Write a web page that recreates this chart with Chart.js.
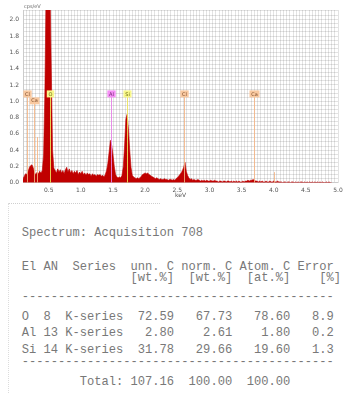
<!DOCTYPE html>
<html>
<head>
<meta charset="utf-8">
<script src="https://cdn.jsdelivr.net/npm/chart.js@4.4.1/dist/chart.umd.min.js"></script>
<style>
	body { margin: 0; background: #fff; }
	#wrap { position: relative; width: 354px; height: 406px; overflow: hidden; }
	#spec { position: absolute; left: 0; top: 0; }
	.rule { position: absolute; left: 8px; top: 203px; width: 152px; border-top: 1px dotted #cfcfcf; }
	.box { position: absolute; left: 8px; top: 203px; height: 190px; border-left: 1px dotted #dcdcdc; }
	.ln { position: absolute; left: 21.7px; white-space: pre; font-family: "Liberation Mono", monospace; font-size: 12.1px; line-height: 14px; color: #787878; }
</style>
</head>
<body>
<div id="wrap">
	<canvas id="spec" width="354" height="200"></canvas>
	<div class="rule"></div>
	<div class="box"></div>
	<div id="table"></div>
</div>
<script>
// spectrum channels, 0.02 keV each, starting at 0.10 keV
var counts = [
	0.05, 0.08, 0.11, 0.10, 0.14, 0.19, 0.21, 0.22, 0.18, 0.12,
	0.10, 0.13, 0.11, 0.14, 0.12, 0.15, 0.34, 1.10, 2.40, 2.40,
	2.40, 2.40, 1.40, 0.40, 0.18, 0.15, 0.12, 0.17, 0.13, 0.16,
	0.12, 0.15, 0.11, 0.16, 0.19, 0.13, 0.17, 0.12, 0.15, 0.11,
	0.14, 0.12, 0.15, 0.10, 0.13, 0.11, 0.14, 0.10, 0.12, 0.09,
	0.12, 0.10, 0.11, 0.08, 0.11, 0.09, 0.10, 0.08, 0.10, 0.09,
	0.10, 0.08, 0.09, 0.07, 0.10, 0.15, 0.24, 0.38, 0.52, 0.46,
	0.34, 0.20, 0.10, 0.07, 0.06, 0.07, 0.06, 0.09, 0.20, 0.45,
	0.78, 0.84, 0.66, 0.40, 0.19, 0.09, 0.07, 0.06, 0.05, 0.06,
	0.05, 0.06, 0.08, 0.10, 0.11, 0.12, 0.11, 0.12, 0.10, 0.09,
	0.08, 0.07, 0.06, 0.05, 0.06, 0.05, 0.04, 0.05, 0.04, 0.04,
	0.05, 0.04, 0.04, 0.03, 0.04, 0.04, 0.03, 0.04, 0.03, 0.05,
	0.06, 0.08, 0.10, 0.12, 0.15, 0.19, 0.25, 0.14, 0.09, 0.06,
	0.04, 0.05, 0.03, 0.04, 0.03, 0.03, 0.04, 0.03, 0.02, 0.03,
	0.02, 0.03, 0.02, 0.03, 0.02, 0.02, 0.03, 0.02, 0.02, 0.03,
	0.02, 0.02, 0.01, 0.02, 0.02, 0.01, 0.02, 0.02, 0.01, 0.02,
	0.02, 0.01, 0.02, 0.01, 0.02, 0.01, 0.02, 0.01, 0.02, 0.01,
	0.01, 0.02, 0.01, 0.02, 0.02, 0.03, 0.02, 0.03, 0.03, 0.04,
	0.03, 0.02, 0.02, 0.01, 0.02, 0.01, 0.02, 0.01, 0.01, 0.02,
	0.01, 0.01, 0.02, 0.01, 0.01, 0.02, 0.01, 0.01, 0.02, 0.01,
	0.01, 0.01, 0.00, 0.01, 0.01, 0.00, 0.01, 0.01, 0.00, 0.01,
	0.01, 0.00, 0.01, 0.00, 0.01, 0.00, 0.01, 0.01, 0.00, 0.01,
	0.00, 0.01, 0.00, 0.01, 0.00, 0.01, 0.00, 0.01, 0.00, 0.01,
	0.00, 0.01, 0.00, 0.01, 0.00, 0.00, 0.01, 0.00, 0.01, 0.00,
	0.00
];
var energy = counts.map(function(c, i) { return +(0.10 + i * 0.02).toFixed(2); });

// element markers
var markName  = ['Cl', 'Ca', '', 'O', 'Al', 'Si', 'Cl', 'Ca', ''];
var markKeV   = [0.16, 0.27, 0.32, 0.52, 1.47, 1.72, 2.61, 3.69, 4.01];
var markLevel = [1.09, 1.005, 0.56, 1.09, 1.09, 1.09, 1.09, 1.09, 0.13];
var markKind  = ['L', 'L', 'L', 'Y', 'P', 'Y', 'L', 'L', 'L'];

var yTicks = ['0.0', '0.2', '0.4', '0.6', '0.8', '1.0', '1.2', '1.4', '1.6', '1.8', '2.0'];
var xTicks = ['0.5', '1.0', '1.5', '2.0', '2.5', '3.0', '3.5', '4.0', '4.5', '5.0'];

// quantification table
var tblEl     = ['O', 'Al', 'Si'];
var tblAN     = [8, 13, 14];
var tblSeries = ['K-series', 'K-series', 'K-series'];
var tblUnn    = ['72.59', '2.80', '31.78'];
var tblNorm   = ['67.73', '2.61', '29.66'];
var tblAtom   = ['78.60', '1.80', '19.60'];
var tblErr    = ['8.9', '0.2', '1.3'];
var tblTotal  = ['107.16', '100.00', '100.00'];

var kindStyle = {
	L: { line: 'rgba(244,180,130,0.85)', fill: '#f9c9a0', text: '#7a4a2a' },
	Y: { line: 'rgba(236,226,90,0.9)', fill: '#f8f78a', text: '#6a6a10' },
	P: { line: 'rgba(230,130,230,0.9)', fill: '#f590f5', text: '#6a206a' }
};

function fmt(v) { return v.toFixed(1); }

var markers = {
	id: 'markers',
	afterDatasetsDraw: function(chart) {
		var ctx = chart.ctx, xs = chart.scales.x, ys = chart.scales.y;
		var area = chart.chartArea;
		ctx.save();
		for (var i = 0; i < markKeV.length; i++) {
			var st = kindStyle[markKind[i]];
			var x = Math.round(xs.getPixelForValue(markKeV[i])) + 0.5;
			var y = ys.getPixelForValue(markLevel[i]);
			ctx.strokeStyle = st.line;
			ctx.lineWidth = 1;
			ctx.beginPath();
			ctx.moveTo(x, ys.getPixelForValue(0));
			ctx.lineTo(x, y);
			ctx.stroke();
			if (markName[i]) {
				ctx.font = '5px "DejaVu Sans"';
				var w = ctx.measureText(markName[i]).width + 3.5;
				ctx.fillStyle = st.fill;
				ctx.fillRect(x - w / 2, y - 3.5, w, 7);
				ctx.fillStyle = st.text;
				ctx.textAlign = 'center';
				ctx.textBaseline = 'middle';
				ctx.fillText(markName[i], x, y + 0.3);
			}
		}
		// unit label at top left
		ctx.font = '5px "DejaVu Sans"';
		ctx.fillStyle = '#666';
		ctx.textAlign = 'left';
		ctx.textBaseline = 'middle';
		ctx.fillText('cps/eV', area.left + 1, 7);
		ctx.restore();
	}
};

var gridCol = 'rgba(0,0,0,0.11)';
var ctx = document.getElementById('spec').getContext('2d');
var spectrumChart = new Chart(ctx, {
	type: 'line',
	data: {
		datasets: [{
			data: energy.map(function(e, i) { return { x: e, y: counts[i] }; }),
			borderColor: '#c00000',
			backgroundColor: '#c00000',
			borderWidth: 0.6,
			pointRadius: 0,
			fill: 'origin',
			tension: 0
		}]
	},
	options: {
		responsive: false,
		animation: false,
		layout: { padding: { left: 0, right: 16, top: 10, bottom: 0 } },
		plugins: { legend: { display: false }, tooltip: { enabled: false } },
		scales: {
			x: {
				type: 'linear',
				min: 0.1,
				max: 5.0,
				afterFit: function(s) { s.height = 17.3; },
				grid: { color: gridCol, drawTicks: false },
				border: { color: gridCol },
				ticks: {
					stepSize: 0.05,
					autoSkip: false,
					maxRotation: 0,
					padding: 4,
					color: '#555',
					font: { size: 6, family: 'DejaVu Sans' },
					callback: function(v) {
						var s = fmt(v);
						return (Math.abs(v * 2 - Math.round(v * 2)) < 1e-6 && xTicks.indexOf(s) >= 0) ? s : '';
					}
				},
				title: { display: true, text: 'keV', color: '#555', font: { size: 6, family: 'DejaVu Sans' }, padding: { top: 0, bottom: 1 } }
			},
			y: {
				min: 0,
				max: 2.12,
				afterFit: function(s) { s.width = 23; },
				grid: { color: gridCol, drawTicks: false },
				border: { color: gridCol },
				ticks: {
					stepSize: 0.05,
					autoSkip: false,
					padding: 4,
					color: '#555',
					font: { size: 6, family: 'DejaVu Sans' },
					callback: function(v) {
						var s = fmt(v);
						return (Math.abs(v * 5 - Math.round(v * 5)) < 1e-6 && yTicks.indexOf(s) >= 0) ? s : '';
					}
				}
			}
		}
	},
	plugins: [markers]
});

// build the text table
function pl(s, n) { return String(s).padStart(n, ' '); }
function pr(s, n) { return String(s).padEnd(n, ' '); }
var dash = '-------------------------------------------';
var lines = [
	['Spectrum: Acquisition 708', 233.3],
	['El AN  Series  unn. C norm. C Atom. C Error', 266.7],
	['               [wt.%]  [wt.%]  [at.%]    [%]', 278.3]
];
lines.push([dash, 297]);
for (var i = 0; i < tblEl.length; i++) {
	lines.push([pr(tblEl[i], 3) + pr(tblAN[i], 3) + tblSeries[i] + pl(tblUnn[i], 7) + pl(tblNorm[i], 8) +
		pl(tblAtom[i], 8) + pl(tblErr[i], 6), 316.7 + i * 16.7]);
}
lines.push([dash, 362]);
lines.push(['        Total:' + pl(tblTotal[0], 7) + pl(tblTotal[1], 8) + pl(tblTotal[2], 8), 381.7]);

var tbl = document.getElementById('table');
lines.forEach(function(l) {
	var d = document.createElement('div');
	d.className = 'ln';
	d.style.top = (l[1] - 7) + 'px';
	d.textContent = l[0];
	tbl.appendChild(d);
});
</script>
</body>
</html>
